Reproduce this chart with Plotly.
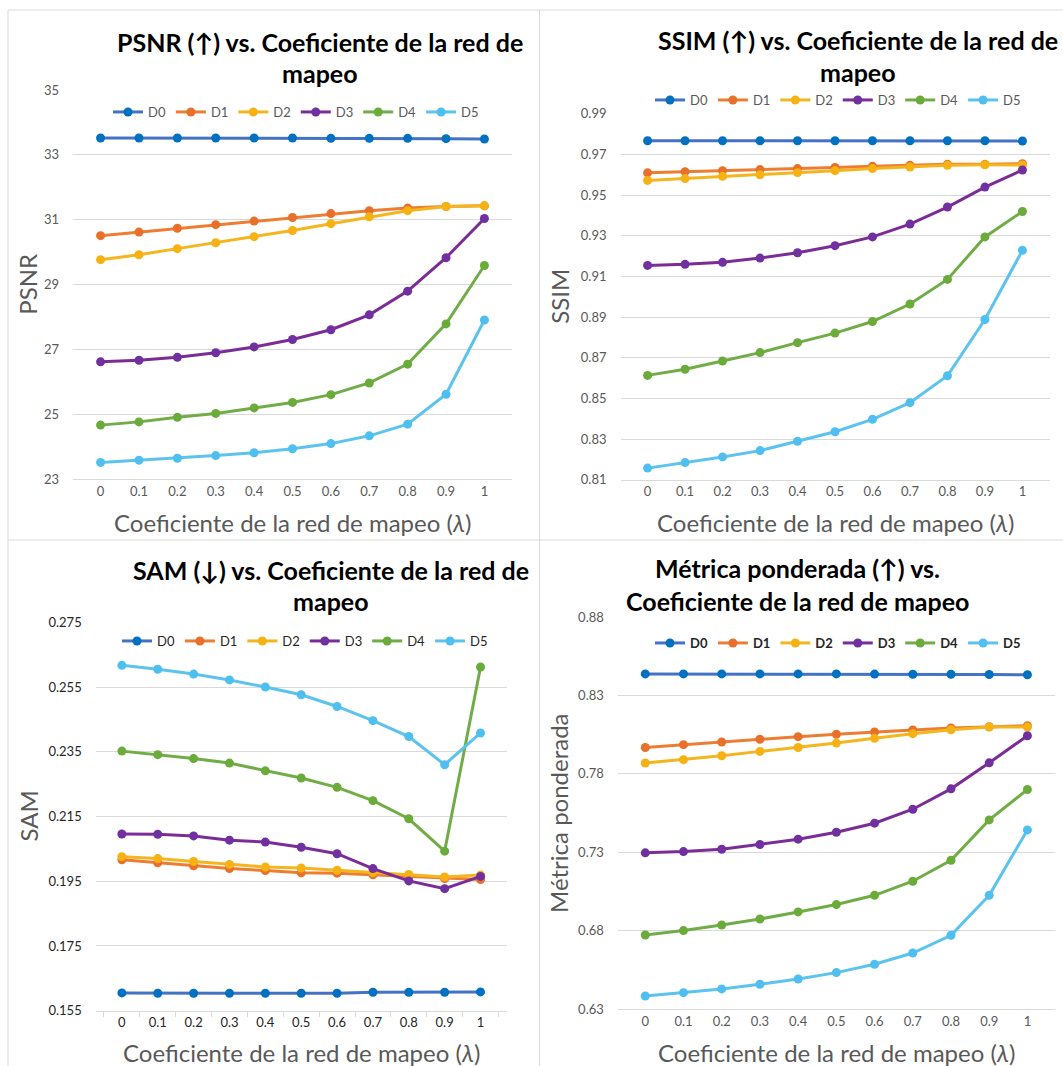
import plotly.graph_objects as go

W, H = 1063, 1066

# ---- data -------------------------------------------------------------
lam = ["0", "0.1", "0.2", "0.3", "0.4", "0.5", "0.6", "0.7", "0.8", "0.9", "1"]
series = ["D0", "D1", "D2", "D3", "D4", "D5"]

psnr_d0 = [33.52, 33.52, 33.52, 33.52, 33.52, 33.52, 33.51, 33.51, 33.51, 33.50, 33.49]
psnr_d1 = [30.51, 30.62, 30.74, 30.85, 30.96, 31.07, 31.19, 31.28, 31.36, 31.41, 31.43]
psnr_d2 = [29.77, 29.92, 30.11, 30.29, 30.48, 30.67, 30.88, 31.09, 31.28, 31.41, 31.43]
psnr_d3 = [26.62, 26.67, 26.76, 26.90, 27.08, 27.31, 27.61, 28.07, 28.80, 29.83, 31.04]
psnr_d4 = [24.67, 24.77, 24.91, 25.03, 25.20, 25.37, 25.61, 25.97, 26.55, 27.79, 29.59]
psnr_d5 = [23.52, 23.59, 23.65, 23.73, 23.82, 23.94, 24.10, 24.34, 24.70, 25.62, 27.91]

ssim_d0 = [0.9767, 0.9767, 0.9767, 0.9767, 0.9767, 0.9767, 0.9767, 0.9767, 0.9767, 0.9767, 0.9766]
ssim_d1 = [0.9609, 0.9615, 0.9620, 0.9625, 0.9630, 0.9636, 0.9641, 0.9646, 0.9651, 0.9651, 0.9654]
ssim_d2 = [0.9572, 0.9581, 0.9592, 0.9600, 0.9610, 0.9620, 0.9630, 0.9638, 0.9646, 0.9649, 0.9648]
ssim_d3 = [0.9154, 0.9159, 0.9169, 0.9190, 0.9216, 0.9251, 0.9294, 0.9357, 0.9441, 0.9539, 0.9623]
ssim_d4 = [0.8613, 0.8643, 0.8684, 0.8725, 0.8774, 0.8821, 0.8878, 0.8964, 0.9085, 0.9294, 0.9419]
ssim_d5 = [0.8157, 0.8184, 0.8212, 0.8243, 0.8289, 0.8336, 0.8397, 0.8479, 0.8611, 0.8888, 0.9228]

sam_d0 = [0.1605, 0.1604, 0.1604, 0.1604, 0.1604, 0.1604, 0.1604, 0.1607, 0.1607, 0.1607, 0.1608]
sam_d1 = [0.2016, 0.2007, 0.1998, 0.1989, 0.1983, 0.1976, 0.1975, 0.1970, 0.1963, 0.1958, 0.1955]
sam_d2 = [0.2026, 0.2020, 0.2011, 0.2002, 0.1994, 0.1991, 0.1984, 0.1977, 0.1971, 0.1963, 0.1969]
sam_d3 = [0.2096, 0.2095, 0.2090, 0.2077, 0.2071, 0.2055, 0.2035, 0.1989, 0.1951, 0.1927, 0.1965]
sam_d4 = [0.2352, 0.2341, 0.2329, 0.2315, 0.2291, 0.2269, 0.2240, 0.2199, 0.2143, 0.2043, 0.2612]
sam_d5 = [0.2617, 0.2605, 0.2590, 0.2572, 0.2550, 0.2526, 0.2490, 0.2446, 0.2397, 0.2310, 0.2408]

pond_d0 = [0.8437, 0.8437, 0.8437, 0.8437, 0.8437, 0.8437, 0.8436, 0.8435, 0.8435, 0.8433, 0.8432]
pond_d1 = [0.7968, 0.7986, 0.8003, 0.8020, 0.8037, 0.8052, 0.8067, 0.8079, 0.8092, 0.8100, 0.8107]
pond_d2 = [0.7869, 0.7890, 0.7915, 0.7943, 0.7968, 0.7996, 0.8026, 0.8056, 0.8081, 0.8098, 0.8098]
pond_d3 = [0.7296, 0.7304, 0.7319, 0.7349, 0.7383, 0.7427, 0.7485, 0.7574, 0.7704, 0.7870, 0.8043]
pond_d4 = [0.6772, 0.6800, 0.6836, 0.6874, 0.6919, 0.6966, 0.7025, 0.7115, 0.7249, 0.7506, 0.7700]
pond_d5 = [0.6383, 0.6404, 0.6428, 0.6458, 0.6491, 0.6532, 0.6585, 0.6657, 0.6770, 0.7025, 0.7442]

line_colors = ["#4472C4", "#ED7D31", "#F5B51E", "#7B2C96", "#70AD47", "#5BC3EE"]
marker_colors = ["#0070C0", "#E8702A", "#F5B212", "#7030A0", "#6AAB3A", "#4FBFEF"]

FONT = "Lato"
GRAY = "#595959"
GRID = "#D9D9D9"


def X(px):
    return px / W


def Y(py):
    return 1 - py / H


fig = go.Figure()

panels = [
    dict(key="", data=[psnr_d0, psnr_d1, psnr_d2, psnr_d3, psnr_d4, psnr_d5],
         xpx=(73, 512), ypx=(90, 479.3), rng=[23, 35], dtick=2, tick0=23, fmt="d",
         ylab="PSNR", ylab_x=28, title=["PSNR (↑) vs. Coeficiente de la red de", "mapeo"],
         title_x=320, title_y=(42, 73), leg=(296, 112), xlab_y=522,
         tickcolor=GRAY, legcolor=GRAY, legbold=False, ticks=False),
    dict(key="2", data=[ssim_d0, ssim_d1, ssim_d2, ssim_d3, ssim_d4, ssim_d5],
         xpx=(620.5, 1049.5), ypx=(113.7, 479.7), rng=[0.81, 0.99], dtick=0.02, tick0=0.81, fmt=".2f",
         ylab="SSIM", ylab_x=560, title=["SSIM (↑) vs. Coeficiente de la red de", "mapeo"],
         title_x=858, title_y=(40, 72), leg=(838, 100), xlab_y=522,
         tickcolor=GRAY, legcolor=GRAY, legbold=False, ticks=False),
    dict(key="3", data=[sam_d0, sam_d1, sam_d2, sam_d3, sam_d4, sam_d5],
         xpx=(95.7, 506.7), ypx=(622.3, 1010.7), rng=[0.155, 0.275], dtick=0.02, tick0=0.155, fmt=".3f",
         ylab="SAM", ylab_x=28, title=["SAM (↓) vs. Coeficiente de la red de", "mapeo"],
         title_x=331, title_y=(570, 601), leg=(305, 641), xlab_y=1052,
         tickcolor="#262626", legcolor="#262626", legbold=False, ticks=True),
    dict(key="4", data=[pond_d0, pond_d1, pond_d2, pond_d3, pond_d4, pond_d5],
         xpx=(617.8, 1054.9), ypx=(617, 1009), rng=[0.63, 0.88], dtick=0.05, tick0=0.63, fmt=".2f",
         ylab="Métrica ponderada", ylab_x=558, title=["Métrica ponderada (↑) vs.", "Coeficiente de la red de mapeo"],
         title_x=797, title_y=(568, 601), leg=(838, 643), xlab_y=1052,
         tickcolor=GRAY, legcolor="#262626", legbold=True, ticks=False),
]

annotations = []
for p in panels:
    k = p["key"]
    xa = "x" + k
    ya = "y" + k
    leg = "legend" + k
    for name, vals, lc, mc in zip(series, p["data"], line_colors, marker_colors):
        fig.add_trace(go.Scatter(
            x=lam, y=vals, name=name, mode="lines+markers",
            line=dict(color=lc, width=3),
            marker=dict(color=mc, size=9),
            xaxis=xa, yaxis=ya, legend=leg,
        ))

    xaxis = dict(
        domain=[X(p["xpx"][0]), X(p["xpx"][1])], anchor=ya, type="category",
        showgrid=False, zeroline=False, showline=True, linecolor=GRID, linewidth=1,
        tickfont=dict(family=FONT, size=13, color=p["tickcolor"]), fixedrange=True,
        automargin=False,
    )
    if p["ticks"]:
        xaxis.update(ticks="outside", tickson="boundaries", ticklen=5, tickcolor=GRID)
    yaxis = dict(
        domain=[Y(p["ypx"][1]), Y(p["ypx"][0])], anchor=xa, range=p["rng"],
        dtick=p["dtick"], tick0=p["tick0"], tickformat=p["fmt"],
        showgrid=True, gridcolor=GRID, gridwidth=1, zeroline=False, showline=False,
        ticks="", ticklabelstandoff=13, automargin=False,
        tickfont=dict(family=FONT, size=13, color=p["tickcolor"]), fixedrange=True,
    )
    fig.layout["xaxis" + k] = xaxis
    fig.layout["yaxis" + k] = yaxis

    lx, ly = p["leg"]
    legtxt = dict(family=FONT, size=13, color=p["legcolor"],
                  weight="bold" if p["legbold"] else "normal")
    fig.layout[leg] = dict(
        orientation="h", x=X(lx), y=Y(ly), xanchor="center", yanchor="middle",
        font=legtxt, bgcolor="rgba(0,0,0,0)", itemwidth=30, tracegroupgap=0,
        traceorder="normal",
    )

    # chart titles (two lines)
    for line, ty in zip(p["title"], p["title_y"]):
        annotations.append(dict(
            text=line, x=X(p["title_x"]), y=Y(ty), xref="paper", yref="paper",
            xanchor="center", yanchor="middle", showarrow=False,
            font=dict(family=FONT, size=25, color="#000000", weight="bold"),
        ))
    # axis titles
    cx = (p["xpx"][0] + p["xpx"][1]) / 2
    cy = (p["ypx"][0] + p["ypx"][1]) / 2
    annotations.append(dict(
        text="Coeficiente de la red de mapeo (<i>λ</i>)", x=X(cx), y=Y(p["xlab_y"]),
        xref="paper", yref="paper", xanchor="center", yanchor="middle", showarrow=False,
        font=dict(family=FONT, size=24, color=GRAY),
    ))
    annotations.append(dict(
        text=p["ylab"], x=X(p["ylab_x"]), y=Y(cy), xref="paper", yref="paper",
        xanchor="center", yanchor="middle", showarrow=False, textangle=-90,
        font=dict(family=FONT, size=24, color=GRAY),
    ))

# chart-area borders
border = dict(color=GRID, width=1)
shapes = [
    dict(type="line", xref="paper", yref="paper", x0=X(8), x1=X(W), y0=Y(10), y1=Y(10), line=border),
    dict(type="line", xref="paper", yref="paper", x0=X(8), x1=X(8), y0=Y(10), y1=Y(H), line=border),
    dict(type="line", xref="paper", yref="paper", x0=X(539.5), x1=X(539.5), y0=Y(10), y1=Y(H), line=border),
    dict(type="line", xref="paper", yref="paper", x0=X(8), x1=X(W), y0=Y(540), y1=Y(540), line=border),
]

fig.update_layout(
    width=W, height=H, margin=dict(l=0, r=0, t=0, b=0, autoexpand=False),
    paper_bgcolor="white", plot_bgcolor="white",
    annotations=annotations, shapes=shapes, showlegend=True,
    font=dict(family=FONT),
)

fig.write_html("out.html")
